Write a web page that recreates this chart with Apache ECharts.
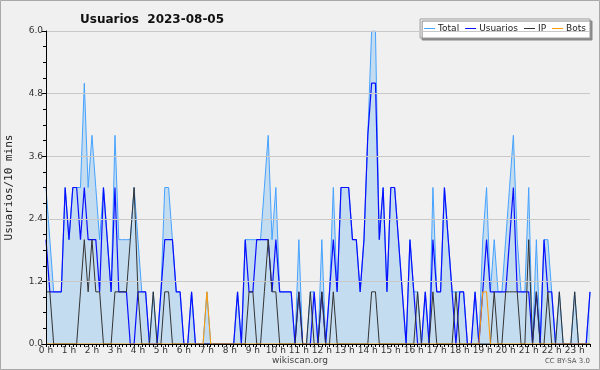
<!DOCTYPE html>
<html><head><meta charset="utf-8">
<script src="https://cdn.jsdelivr.net/npm/echarts@6/dist/echarts.min.js"></script>
<style>html,body{margin:0;padding:0;background:#f0f0f0}#c{width:600px;height:370px;}</style>
</head><body><div id="c"></div>
<script>
// Tick labels
const hourLabels = ['0 h','1 h','2 h','3 h','4 h','5 h','6 h','7 h','8 h','9 h','10 h','11 h',
  '12 h','13 h','14 h','15 h','16 h','17 h','18 h','19 h','20 h','21 h','22 h','23 h'];
const yTicks = [0, 1.2, 2.4, 3.6, 4.8, 6.0];
const seriesNames = ['Total', 'Usuarios', 'IP', 'Bots'];

// 10-minute slots, 00:00 .. 23:40
const total = [
  3,2,1,1,1,3,2,3,3,3,5,3,
  4,3,2,3,2,1,4,2,2,2,2,3,
  2,1,1,0,1,0,1,3,3,2,1,1,
  0,0,1,0,0,0,1,0,0,0,0,0,
  0,0,1,0,2,2,2,2,2,3,4,2,
  3,1,1,1,1,0,2,0,0,1,1,0,
  2,0,1,3,1,3,3,3,2,2,1,2,
  4,6,6,2,3,1,3,3,2,1,0,2,
  1,1,0,1,0,3,1,1,3,2,1,1,
  1,1,0,0,1,0,2,3,1,2,1,1,
  2,3,4,2,1,1,3,0,2,0,2,2,
  1,0,1,0,0,0,1,0,0,0,1];
const usuarios = [
  2,1,1,1,1,3,2,3,3,2,3,2,
  2,2,1,3,2,1,3,1,1,1,0,0,
  1,1,1,0,0,0,1,2,2,2,1,1,
  0,0,1,0,0,0,0,0,0,0,0,0,
  0,0,1,0,2,1,1,2,2,2,2,1,
  2,1,1,1,1,0,1,0,0,0,1,0,
  1,0,1,2,1,3,3,3,2,2,1,2,
  4,5,5,2,3,1,3,3,2,1,0,2,
  1,0,0,1,0,2,1,1,3,2,1,0,
  1,1,0,0,1,0,1,2,1,1,1,1,
  1,2,3,1,1,1,1,0,1,0,2,1,
  1,0,0,0,0,0,0,0,0,0,1];
const ip = [
  1,1,0,0,0,0,0,0,0,1,2,1,
  2,1,1,0,0,0,1,1,1,1,2,3,
  1,0,0,0,1,0,0,1,1,0,0,0,
  0,0,0,0,0,0,0,0,0,0,0,0,
  0,0,0,0,0,1,1,0,0,1,2,1,
  1,0,0,0,0,0,1,0,0,1,0,0,
  1,0,0,1,0,0,0,0,0,0,0,0,
  0,1,1,0,0,0,0,0,0,0,0,0,
  0,1,0,0,0,1,0,0,0,0,0,1,
  0,0,0,0,0,0,0,0,0,1,0,0,
  1,1,1,1,0,0,2,0,1,0,0,1,
  0,0,1,0,0,0,1,0,0,0,0];
const bots = [
  0,0,0,0,0,0,0,0,0,0,0,0,
  0,0,0,0,0,0,0,0,0,0,0,0,
  0,0,0,0,0,0,0,0,0,0,0,0,
  0,0,0,0,0,0,1,0,0,0,0,0,
  0,0,0,0,0,0,0,0,0,0,0,0,
  0,0,0,0,0,0,0,0,0,0,0,0,
  0,0,0,0,0,0,0,0,0,0,0,0,
  0,0,0,0,0,0,0,0,0,0,0,0,
  0,0,0,0,0,0,0,0,0,0,0,0,
  0,0,0,0,0,0,1,1,0,0,0,0,
  0,0,0,0,0,0,0,0,0,0,0,0,
  0,0,0,0,0,0,0,0,0,0,0];

const slots = total.map((_, i) => i);
const chart = echarts.init(document.getElementById('c'));
const axisColor = '#000';
chart.setOption({
  animation: false,
  backgroundColor: '#f0f0f0',
  title: {
    text: 'Usuarios  2023-08-05', left: 75, top: 9,
    textStyle: { fontFamily: 'DejaVu Sans', fontWeight: 'bold', fontSize: 12, color: '#111' }
  },
  legend: {
    data: seriesNames, right: 10, top: 19, itemGap: 6, itemWidth: 11, itemHeight: 1,
    icon: 'rect',
    padding: [5, 4, 5, 4], backgroundColor: '#fff', borderColor: '#999', borderWidth: 1,
    shadowColor: '#888', shadowOffsetX: 2, shadowOffsetY: 2, shadowBlur: 0,
    textStyle: { fontFamily: 'DejaVu Sans', fontSize: 9, color: '#222', padding: [0, 0, 0, -2] }
  },
  grid: { left: 46, right: 10, top: 31, bottom: 26, outerBoundsMode: 'none', containLabel: false },
  xAxis: {
    type: 'category', data: slots, boundaryGap: false, z: 5,
    axisLine: { lineStyle: { color: axisColor } },
    axisTick: { interval: 0, length: 3, lineStyle: { color: axisColor } },
    axisLabel: {
      interval: (i) => i % 6 === 0,
      formatter: (v, i) => hourLabels[Math.round(i / 6)],
      fontFamily: 'DejaVu Sans', fontSize: 9, color: '#333', margin: 2
    },
    splitLine: { show: false }
  },
  yAxis: {
    type: 'value', min: yTicks[0], max: yTicks[yTicks.length - 1], interval: yTicks[1], z: 5,
    name: 'Usuarios/10 mins', nameLocation: 'middle', nameGap: 31,
    nameTextStyle: { fontFamily: 'DejaVu Sans Mono', fontSize: 11, color: '#222' },
    axisLine: { show: true, lineStyle: { color: axisColor } },
    axisTick: { show: true, length: 4, lineStyle: { color: axisColor } },
    minorTick: { show: true, splitNumber: 4, length: 3, lineStyle: { color: axisColor } },
    axisLabel: { formatter: (v) => v.toFixed(1), fontFamily: 'DejaVu Sans', fontSize: 9, color: '#333', margin: 3 },
    splitLine: { lineStyle: { color: '#c8c8c8' } }
  },
  graphic: [
    { type: 'text', left: 'center', top: 356, style: { text: 'wikiscan.org', font: '9px "DejaVu Sans"', fill: '#444' } },
    { type: 'text', right: 10, top: 358, style: { text: 'CC BY-SA 3.0', font: '7px "DejaVu Sans"', fill: '#555' } },
    { type: 'rect', shape: { x: 0.5, y: 0.5, width: 599, height: 369 }, style: { fill: 'none', stroke: '#a8a8a8', lineWidth: 1 }, z: 100 }
  ],
  series: [
    { name: 'Total', type: 'line', data: total, symbol: 'none', z: 2,
      lineStyle: { color: '#45a2ff', width: 1 }, itemStyle: { color: '#45a2ff' },
      areaStyle: { color: '#c4dcf0', opacity: 1 } },
    { name: 'Usuarios', type: 'line', data: usuarios, symbol: 'none', z: 3,
      lineStyle: { color: '#0a10ff', width: 1.2 }, itemStyle: { color: '#0a10ff' } },
    { name: 'IP', type: 'line', data: ip, symbol: 'none', z: 4,
      lineStyle: { color: '#333', width: 1 }, itemStyle: { color: '#333' } },
    { name: 'Bots', type: 'line', data: bots, symbol: 'none', z: 4,
      lineStyle: { color: '#ff9a00', width: 1 }, itemStyle: { color: '#ff9a00' } }
  ]
});
</script></body></html>
